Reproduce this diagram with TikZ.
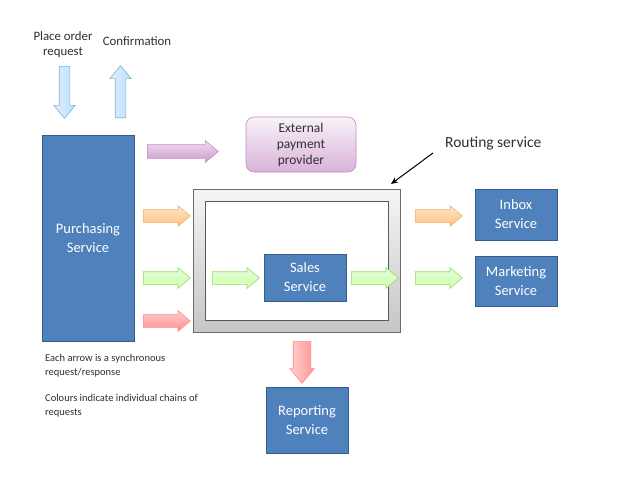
\documentclass[tikz,border=0pt]{standalone}
\usepackage{fontspec}
\setmainfont{Carlito}
\usetikzlibrary{shapes.arrows,arrows.meta}
\definecolor{boxblue}{HTML}{4F81BD}
\definecolor{boxborder}{HTML}{385D8A}
\definecolor{txtdark}{HTML}{303030}
\begin{document}
\begin{tikzpicture}[x=1pt,y=-1pt,
  svc/.style={draw=boxborder, fill=boxblue, text=white, align=center,
    font=\fontsize{14.5}{19}\selectfont, inner sep=0pt, line width=0.9pt},
  lbl/.style={text=txtdark, align=center, inner sep=0pt},
  barrow/.style={single arrow, anchor=tail, line width=0.6pt, single arrow tip angle=80},
  harrow/.style={barrow, inner sep=6pt, minimum height=47pt, minimum width=20pt, single arrow head extend=4pt},
  orangeA/.style={draw=orange!60!brown!60, top color=orange!20!white, bottom color=orange!50!white},
  greenA/.style={draw=green!40!olive!55, top color=green!12!white, bottom color=green!35!lime!35!white},
  redA/.style={draw=red!45!white, top color=red!18!white, bottom color=red!45!white},
  blueA/.style={draw=blue!30!cyan!40!gray!70, left color=blue!8, right color=blue!35!cyan!30!white},
  purpleA/.style={draw=violet!45!white, top color=violet!12!white, bottom color=violet!40!white},
]
\useasboundingbox[fill=white] (0,0) rectangle (640,480);

% top request arrows and labels
\node[lbl, font=\fontsize{12.8}{15}\selectfont] (place) at (63,45) {Place order\\request};
\node[lbl, font=\fontsize{12.8}{15}\selectfont] (confirm) at (137,41) {Confirmation};
\node[barrow, blueA, shape border rotate=270, inner sep=5pt, minimum height=52pt, minimum width=21pt,
  single arrow head extend=5.5pt] (inA) at (64.5,66) {};
\node[barrow, blueA, shape border rotate=90, inner sep=5pt, minimum height=52pt, minimum width=21pt,
  single arrow head extend=5.5pt] (outA) at (120.5,118) {};

% services
\node[svc, minimum width=92pt, minimum height=206pt] (purch) at (88,238) {Purchasing\\Service};
\node[svc, minimum width=82pt, minimum height=51pt] (inbox) at (516,214.5) {Inbox\\Service};
\node[svc, minimum width=82pt, minimum height=50pt] (mkt) at (516,281) {Marketing\\Service};
\node[svc, minimum width=82pt, minimum height=66pt] (rep) at (307,420) {Reporting\\Service};

% external payment provider
\node[draw=violet!45!white, rounded corners=8pt, top color=violet!5, bottom color=violet!30!white,
  minimum width=110pt, minimum height=55pt, align=center, text=txtdark, inner sep=0pt,
  font=\fontsize{13.5}{16}\selectfont, line width=0.6pt] (ext) at (301,144.5) {External\\payment\\provider};

% routing service frame
\node[draw=gray!85!black, top color=gray!8, bottom color=gray!45, minimum width=207pt,
  minimum height=143pt, inner sep=0pt, line width=0.8pt] (router) at (296.5,260.5) {};
\node[draw=gray!70!black, fill=white, minimum width=183pt, minimum height=119pt,
  inner sep=0pt, line width=0.8pt] (inner) at (296.5,260.5) {};
\node[svc, minimum width=82pt, minimum height=47pt] (sales) at (305,277.5) {Sales\\Service};

% routing label with pointer
\node[lbl, anchor=west, font=\fontsize{15.5}{17}\selectfont] (rlabel) at (445,143) {Routing service};
\coordinate (rtail) at (433,153);
\coordinate (rtip) at (391,184);
\draw[line width=1pt, -{Stealth[length=7pt,width=6pt]}] (rtail) -- (rtip);

% horizontal arrows
\node[barrow, purpleA, inner sep=6.5pt, minimum height=71pt, minimum width=21pt, single arrow head extend=4pt] (payA) at (147,151.5) {};
\node[harrow, orangeA] (oL) at (143,216) {};
\node[harrow, greenA] (gL) at (143,278) {};
\node[harrow, redA] (rL) at (143,321) {};
\node[harrow, greenA] (gIn) at (212,278) {};
\node[harrow, greenA] (gOut) at (351,278) {};
\node[harrow, orangeA] (oR) at (415,216) {};
\node[harrow, greenA] (gR) at (415,278) {};
\node[barrow, redA, shape border rotate=270, inner sep=8.5pt, minimum height=42pt, minimum width=24pt,
  single arrow head extend=3.5pt, left color=red!18!white, right color=red!42!white] (repA) at (302,341) {};

% notes
\node[lbl, anchor=north west, align=left, font=\fontsize{10.5}{14}\selectfont] (note1) at (45,354)
  {Each arrow is a synchronous\\request/response};
\node[lbl, anchor=north west, align=left, font=\fontsize{10.5}{14}\selectfont] (note2) at (45,394)
  {Colours indicate individual chains of\\requests};
\end{tikzpicture}
\end{document}
